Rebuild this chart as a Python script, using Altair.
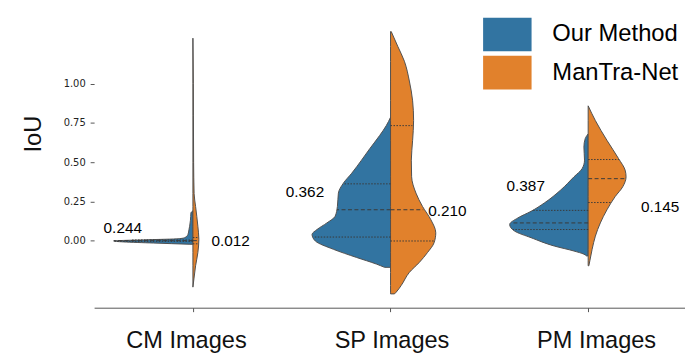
import altair as alt
import pandas as pd

categories = ["CM Images", "SP Images", "PM Images"]
methods = ["Our Method", "ManTra-Net"]
colors = ["#3274a1", "#e1812c"]

# Violin density profiles: IoU value and half-width (in px of the original)
cm_our_iou = [-0.023, -0.015, -0.008, -0.002, 0.006, 0.012, 0.02, 0.04, 0.07, 0.092, 0.13, 0.177, 0.19]
cm_our_dens = [3, 40, 70, 80, 45, 15, 8, 5, 4, 3.3, 2.5, 2, 0]
cm_man_iou = [-0.296, -0.244, -0.16, -0.076, 0.008, 0.092, 0.218, 0.30, 0.5, 0.8, 1.0, 1.29]
cm_man_dens = [0, 1, 2.7, 5, 6, 5, 2.7, 1.2, 0.7, 0.5, 0.4, 0]

sp_our_iou = [-0.17, -0.149, -0.107, -0.055, -0.002, 0.040, 0.071, 0.113, 0.155, 0.218,
              0.303, 0.366, 0.429, 0.513, 0.586, 0.67, 0.733, 0.786]
sp_our_dens = [6, 14.3, 34.3, 57.7, 76, 79.3, 74.3, 64.3, 56, 53.7,
               52.7, 47.7, 39.3, 29.3, 21, 11, 4.3, 0]
sp_man_iou = [-0.339, -0.328, -0.286, -0.202, -0.139, -0.076, -0.013, 0.050, 0.134, 0.218,
              0.303, 0.407, 0.513, 0.639, 0.765, 0.891, 1.017, 1.143, 1.238, 1.332]
sp_man_dens = [4, 5.7, 10.7, 19, 29, 37.3, 44, 45.7, 40.7, 32.3,
               25.7, 21.3, 21, 22.3, 23.3, 22.3, 19, 14, 7.3, 0.7]

pm_our_iou = [-0.097, -0.086, -0.066, -0.034, 0.019, 0.061, 0.103, 0.145, 0.187, 0.24,
              0.323, 0.407, 0.46, 0.513, 0.596, 0.65, 0.68]
pm_our_dens = [1.7, 4.3, 14.3, 34.3, 57.7, 74.3, 79.3, 71, 57.7, 44.3,
               27.7, 14.3, 6, 3.7, 4.3, 3, 0]
pm_man_iou = [-0.16, -0.128, -0.055, 0.029, 0.113, 0.197, 0.281, 0.344, 0.407, 0.45,
              0.523, 0.639, 0.765, 0.859]
pm_man_dens = [0.7, 1.7, 4, 7.3, 12.3, 19, 27.3, 35, 38.3, 37.3,
               30.7, 19, 7.3, 0]

# Quartiles (Q1, median, Q3) and violin half-width at each
cm_our_q = [-0.004, 0.0, 0.004]
cm_our_qd = [79, 80, 62]
cm_man_q = [-0.02, 0.0, 0.02]
cm_man_qd = [5.8, 6, 5.8]
sp_our_q = [0.023, 0.197, 0.362]
sp_our_qd = [78, 54, 48]
sp_man_q = [-0.002, 0.197, 0.733]
sp_man_qd = [44, 33, 22]
pm_our_q = [0.071, 0.113, 0.193]
pm_our_qd = [76, 78, 56]
pm_man_q = [0.243, 0.395, 0.517]
pm_man_qd = [24, 38, 31]

# Annotated mean values
label_text = ["0.244", "0.012", "0.362", "0.210", "0.387", "0.145"]
label_x = [-0.355, 0.191, 0.567, 1.288, 1.684, 2.364]
label_y = [0.081, -0.001, 0.308, 0.187, 0.35, 0.213]

PX_PER_UNIT = 199.67

violins = [
    (0, methods[0], cm_our_iou, cm_our_dens, cm_our_q, cm_our_qd),
    (0, methods[1], cm_man_iou, cm_man_dens, cm_man_q, cm_man_qd),
    (1, methods[0], sp_our_iou, sp_our_dens, sp_our_q, sp_our_qd),
    (1, methods[1], sp_man_iou, sp_man_dens, sp_man_q, sp_man_qd),
    (2, methods[0], pm_our_iou, pm_our_dens, pm_our_q, pm_our_qd),
    (2, methods[1], pm_man_iou, pm_man_dens, pm_man_q, pm_man_qd),
]

rows, qrows = [], []
for cat, m, vs, ds, qs, qds in violins:
    sign = -1 if m == methods[0] else 1
    vid = f"v{cat}{0 if m == methods[0] else 1}"
    for v, d in zip(vs, ds):
        rows.append({"violin": vid, "method": m, "center": float(cat),
                     "edge": cat + sign * d / PX_PER_UNIT, "iou": v})
    for k, (q, qd) in enumerate(zip(qs, qds)):
        qrows.append({"method": m, "center": float(cat), "edge": cat + sign * qd / PX_PER_UNIT,
                      "iou": q, "kind": "median" if k == 1 else "quartile"})

df = pd.DataFrame(rows)
qdf = pd.DataFrame(qrows)
ldf = pd.DataFrame({"text": label_text, "x": label_x, "y": label_y})

xscale = alt.Scale(domain=[-0.5, 2.49], nice=False, zero=False)
yscale = alt.Scale(domain=[-0.427, 1.471], nice=False, zero=False)

xaxis = alt.Axis(values=[0, 1, 2],
                 labelExpr="['CM Images','SP Images','PM Images'][datum.value]",
                 labelOffset={"condition": [{"test": "datum.value == 0", "value": -7},
                                            {"test": "datum.value == 2", "value": 8}],
                              "value": 1},
                 title=None, grid=False, tickSize=4, tickColor="#555555", domainColor="#555555",
                 labelFont="Liberation Sans", labelFontSize=23.8, labelColor="#111111",
                 labelPadding=17)
yaxis = alt.Axis(values=[0, 0.25, 0.5, 0.75, 1.0], format=".2f", grid=False, domain=False,
                 tickSize=4, tickColor="#555555", labelFont="DejaVu Sans", labelFontSize=10,
                 labelColor="#222222", labelPadding=5,
                 title="IoU", titleFont="Liberation Sans", titleFontSize=24,
                 titleFontWeight="normal", titleColor="#111111", titleX=-54, titleY=125,
                 titleAlign="center", titleBaseline="alphabetic", titleAngle=270)

areas = alt.Chart(df).mark_area(orient="horizontal", stroke="#505050", strokeWidth=1,
                                fillOpacity=1, interpolate="monotone").encode(
    y=alt.Y("iou:Q", scale=yscale, axis=yaxis),
    x=alt.X("edge:Q", scale=xscale, axis=xaxis, stack=False),
    x2="center:Q",
    color=alt.Color("method:N", scale=alt.Scale(domain=methods, range=colors),
                    legend=alt.Legend(orient="none", legendX=400.5, legendY=8, title=None,
                                      symbolType="M-1.44,-1H1.44V1H-1.44Z", symbolSize=1156,
                                      symbolStrokeWidth=0, symbolOpacity=1,
                                      labelFont="Liberation Sans", labelFontSize=24,
                                      labelColor="#000000", labelOffset=28.5, rowPadding=4.5,
                                      padding=0)),
    detail="violin:N",
)

medians = alt.Chart(qdf).transform_filter("datum.kind == 'median'").mark_rule(
    color="#3a3a3a", strokeWidth=1, strokeDash=[4, 2.5]).encode(
    x="center:Q", x2="edge:Q", y="iou:Q")
quarts = alt.Chart(qdf).transform_filter("datum.kind == 'quartile'").mark_rule(
    color="#3a3a3a", strokeWidth=1, strokeDash=[1.5, 1.5]).encode(
    x="center:Q", x2="edge:Q", y="iou:Q")

labels = alt.Chart(ldf).mark_text(font="Liberation Sans", fontSize=15.5, color="#000000",
                                  align="center", baseline="middle").encode(
    x="x:Q", y="y:Q", text="text:N")

chart = alt.layer(areas, quarts, medians, labels).properties(
    width=597, height=301, autosize="none",
    padding={"left": 87, "top": 0, "right": 0, "bottom": 46},
    background="white",
).configure_view(strokeWidth=0)

chart.save("out.html", embed_options={"renderer": "svg", "actions": False})
